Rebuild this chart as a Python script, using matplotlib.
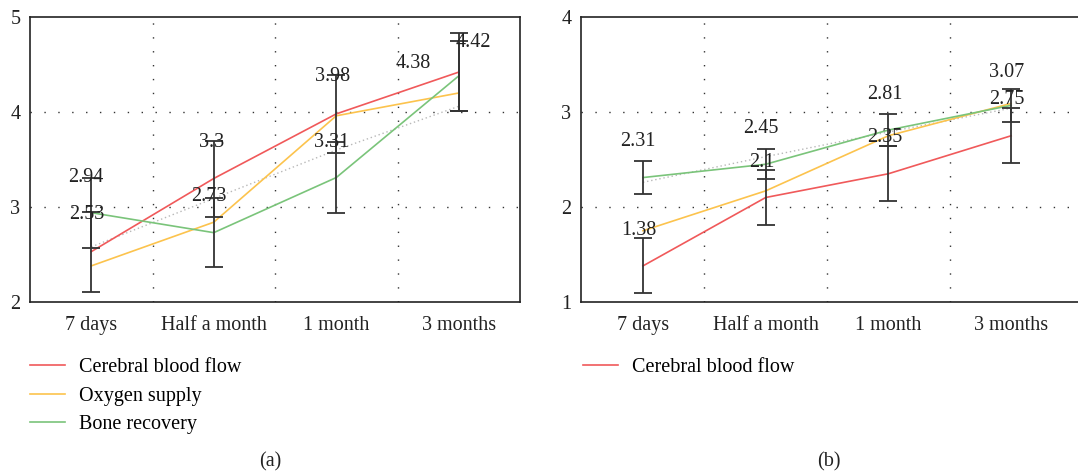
import numpy as np
import matplotlib
matplotlib.use("Agg")
import matplotlib.pyplot as plt

plt.rcParams['font.family'] = ['Liberation Serif', 'DejaVu Serif']

categories = ["7 days", "Half a month", "1 month", "3 months"]
series_names = ["Cerebral blood flow", "Oxygen supply", "Bone recovery"]

# panel (a)
a_blood = [2.53, 3.30, 3.98, 4.42]
a_oxygen = [2.38, 2.84, 3.96, 4.20]
a_bone = [2.94, 2.73, 3.31, 4.38]
a_trend = [2.58, 3.09, 3.60, 4.06]
a_blood_err = [0.42, 0.40, 0.41, 0.41]
a_bone_err = [0.37, 0.36, 0.37, 0.37]

# panel (b)
b_blood = [1.38, 2.10, 2.35, 2.75]
b_oxygen = [1.75, 2.17, 2.75, 3.09]
b_bone = [2.31, 2.45, 2.81, 3.07]
b_trend = [2.26, 2.53, 2.79, 3.04]
b_blood_err = [0.29, 0.29, 0.29, 0.29]
b_bone_err = [0.17, 0.16, 0.17, 0.17]

RED = "#f0595a"
ORANGE = "#fcc34d"
GREEN = "#7ac47a"
FS = 14.5

W, H = 1078, 472
fig = plt.figure(figsize=(W / 100, H / 100), dpi=100)


def setup(ax, ylim, yticks, xlim, right_spine=True):
    x = np.arange(len(categories))
    ax.set_xlim(*xlim)
    ax.set_ylim(*ylim)
    ax.set_xticks(x)
    ax.set_xticklabels(categories)
    ax.set_yticks(yticks)
    ax.tick_params(length=0, labelsize=FS, colors="#222222")
    ax.tick_params(axis="x", pad=10)
    ax.tick_params(axis="y", pad=7)
    for s in ax.spines.values():
        s.set_linewidth(1.2)
        s.set_color("#222222")
    ax.spines["right"].set_visible(right_spine)
    for v in x[:-1] + 0.5:
        ax.axvline(v, color="#333333", lw=1, ls=(0, (1, 9)), zorder=0)
    for v in yticks[1:-1]:
        ax.axhline(v, color="#333333", lw=1, ls=(0, (1, 9)), zorder=0)
    return x


def draw(ax, blood, oxygen, bone, trend, blood_err, bone_err, offs_red, offs_green):
    x = np.arange(len(categories))
    ax.plot(x, trend, color="#b8b8b8", lw=1, ls=(0, (1, 2)), zorder=1)
    ax.plot(x, blood, color=RED, lw=1.2, label=series_names[0], zorder=3)
    ax.plot(x, oxygen, color=ORANGE, lw=1.2, label=series_names[1], zorder=3)
    ax.plot(x, bone, color=GREEN, lw=1.2, label=series_names[2], zorder=3)
    ax.errorbar(x, blood, yerr=blood_err, fmt="none", ecolor="#333333",
                elinewidth=1.3, capsize=6.5, capthick=1.3, zorder=4)
    ax.errorbar(x, bone, yerr=bone_err, fmt="none", ecolor="#333333",
                elinewidth=1.3, capsize=6.5, capthick=1.3, zorder=4)
    for i in range(len(x)):
        ax.annotate(f"{blood[i]:g}", (x[i], blood[i] + blood_err[i]),
                    xytext=offs_red[i], textcoords="offset pixels",
                    ha="center", va="center", fontsize=FS, color="#222222", zorder=5)
        ax.annotate(f"{bone[i]:g}", (x[i], bone[i] + bone_err[i]),
                    xytext=offs_green[i], textcoords="offset pixels",
                    ha="center", va="center", fontsize=FS, color="#222222", zorder=5)


# panel (a)
ax1 = fig.add_axes([30 / W, 1 - 302 / H, 490 / W, 285 / H])
setup(ax1, (2, 5), [2, 3, 4, 5], (-0.5, 3.5))
draw(ax1, a_blood, a_oxygen, a_bone, a_trend, a_blood_err, a_bone_err,
     [(-4, -3), (-2, -2), (-4, -2), (15, -9)],
     [(-5, 0), (-5, 2), (-5, 0), (-46, -23)])
ax1.legend(loc="upper left", bbox_to_anchor=(30 / W, 1 - 358 / H),
           bbox_transform=fig.transFigure, frameon=False, fontsize=FS,
           handlelength=1.75, handletextpad=0.7, labelspacing=0.47,
           borderpad=0, borderaxespad=0)

# panel (b)
ax2 = fig.add_axes([581 / W, 1 - 302 / H, (W - 581) / W, 285 / H])
setup(ax2, (1, 4), [1, 2, 3, 4], (-0.505, 3.545), right_spine=False)
draw(ax2, b_blood, b_oxygen, b_bone, b_trend, b_blood_err, b_bone_err,
     [(-4, 8), (-4, 7), (-4, 9), (-4, 9)],
     [(-5, 20), (-5, 21), (-4, 19), (-4, 17)])
h, l = ax2.get_legend_handles_labels()
ax2.legend(h[:1], l[:1], loc="upper left", bbox_to_anchor=(583 / W, 1 - 358 / H),
           bbox_transform=fig.transFigure, frameon=False, fontsize=FS,
           handlelength=1.75, handletextpad=0.7, borderpad=0, borderaxespad=0)

fig.text(270 / W, 1 - 462 / H, "(a)", ha="center", va="center", fontsize=FS, color="#222222")
fig.text(829 / W, 1 - 462 / H, "(b)", ha="center", va="center", fontsize=FS, color="#222222")

fig.savefig("out.png", dpi=100)
